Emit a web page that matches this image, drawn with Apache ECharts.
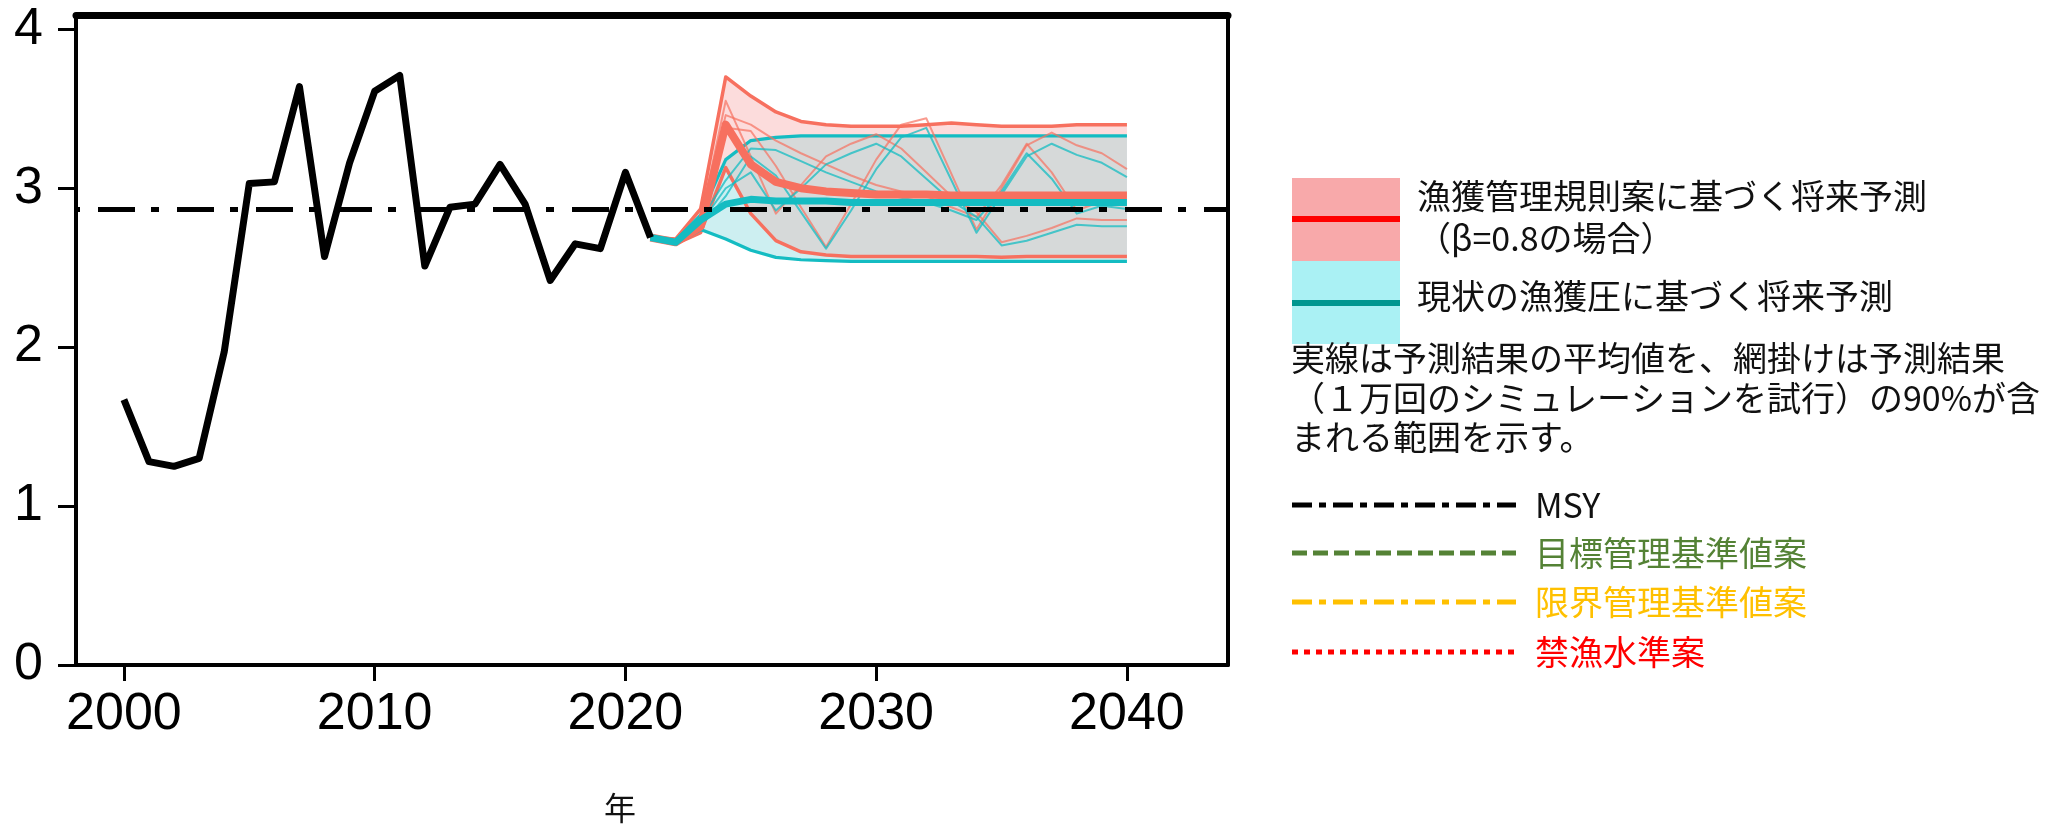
<!DOCTYPE html>
<html>
<head>
<meta charset="utf-8">
<script src="https://cdn.jsdelivr.net/npm/echarts@6/dist/echarts.min.js"></script>
<style>
  html, body { margin: 0; padding: 0; background: #fff; }
  #chart { width: 2066px; height: 832px; }
</style>
</head>
<body>
<div id="chart"></div>
<script>
// ---- data ----
const histYears = [2000, 2001, 2002, 2003, 2004, 2005, 2006, 2007, 2008, 2009, 2010,
                   2011, 2012, 2013, 2014, 2015, 2016, 2017, 2018, 2019, 2020, 2021];
const histBiomass = [1.67, 1.28, 1.25, 1.30, 1.97, 3.03, 3.04, 3.64, 2.57, 3.16, 3.61,
                     3.71, 2.51, 2.88, 2.90, 3.15, 2.90, 2.42, 2.65, 2.62, 3.10, 2.69];

const projYears = [2021, 2022, 2023, 2024, 2025, 2026, 2027, 2028, 2029, 2030,
                   2031, 2032, 2033, 2034, 2035, 2036, 2037, 2038, 2039, 2040];

// harvest control rule (beta = 0.8): mean and 90% range
const ruleMean  = [2.69, 2.66, 2.76, 3.40, 3.15, 3.04, 3.00, 2.98, 2.97, 2.96,
                   2.96, 2.96, 2.955, 2.955, 2.955, 2.955, 2.955, 2.955, 2.955, 2.955];
const ruleUpper = [2.69, 2.68, 2.87, 3.70, 3.58, 3.48, 3.42, 3.40, 3.39, 3.39,
                   3.39, 3.40, 3.41, 3.40, 3.39, 3.39, 3.39, 3.40, 3.40, 3.40];
const ruleLower = [2.69, 2.65, 2.72, 3.13, 2.84, 2.67, 2.60, 2.58, 2.57, 2.57,
                   2.57, 2.57, 2.57, 2.57, 2.565, 2.57, 2.57, 2.57, 2.57, 2.57];

// current fishing pressure: mean and 90% range
const curMean  = [2.69, 2.66, 2.80, 2.90, 2.93, 2.92, 2.92, 2.92, 2.91, 2.91,
                  2.91, 2.91, 2.91, 2.91, 2.91, 2.91, 2.91, 2.91, 2.91, 2.91];
const curUpper = [2.69, 2.67, 2.83, 3.18, 3.30, 3.32, 3.33, 3.33, 3.33, 3.33,
                  3.33, 3.33, 3.33, 3.33, 3.33, 3.33, 3.33, 3.33, 3.33, 3.33];
const curLower = [2.69, 2.65, 2.74, 2.68, 2.61, 2.565, 2.55, 2.545, 2.54, 2.54,
                  2.54, 2.54, 2.54, 2.54, 2.54, 2.54, 2.54, 2.54, 2.54, 2.54];

// individual simulation runs
const ruleRunA = [2.69, 2.66, 2.80, 3.55, 3.20, 2.84, 3.02, 3.20, 3.28, 3.34,
                  3.25, 3.10, 2.95, 2.85, 2.66, 2.70, 2.75, 2.81, 2.80, 2.80];
const ruleRunB = [2.69, 2.66, 2.78, 3.38, 3.36, 3.14, 2.88, 2.63, 2.90, 3.18,
                  3.40, 3.44, 3.09, 2.74, 3.00, 3.27, 3.35, 3.27, 3.22, 3.12];
const ruleRunC = [2.69, 2.66, 2.82, 3.46, 3.40, 3.30, 3.22, 3.15, 3.08, 3.02,
                  2.98, 2.95, 2.88, 2.82, 3.02, 3.28, 3.10, 2.86, 2.92, 2.90];
const curRunA  = [2.69, 2.66, 2.78, 3.00, 3.10, 2.86, 3.00, 3.15, 3.22, 3.28,
                  3.20, 3.06, 2.92, 2.82, 2.64, 2.67, 2.72, 2.77, 2.76, 2.76];
const curRunB  = [2.69, 2.66, 2.76, 2.95, 3.20, 3.08, 2.85, 2.62, 2.86, 3.12,
                  3.32, 3.38, 3.05, 2.72, 2.96, 3.20, 3.28, 3.21, 3.16, 3.07];
const curRunC  = [2.69, 2.66, 2.80, 3.05, 3.25, 3.24, 3.17, 3.10, 3.04, 2.98,
                  2.94, 2.91, 2.86, 2.80, 2.98, 3.22, 3.06, 2.84, 2.89, 2.87];

const msyLevel = 2.87;

const xTicks = [2000, 2010, 2020, 2030, 2040];
const yTicks = [0, 1, 2, 3, 4];

// ---- colours ----
const RED = '#F7705F';
const CYAN = '#14BCC2';
const FILL_RULE = '#FCDCDC';
const FILL_CUR = '#CDEFF1';
const FILL_BOTH = '#D6D9D9';
const LATIN = '"Liberation Sans", Arial, sans-serif';
const CJK = '"Noto Sans CJK JP", sans-serif';

// ---- helpers ----
function pairs(xs, ys) { return xs.map((x, i) => [x, ys[i]]); }

// pointwise min/max of two polylines, including the crossing points
function envelope(xs, a, b, pick) {
  const pts = [];
  for (let i = 0; i < xs.length; i++) {
    pts.push([xs[i], pick(a[i], b[i])]);
    if (i < xs.length - 1) {
      const d0 = a[i] - b[i], d1 = a[i + 1] - b[i + 1];
      if (d0 * d1 < 0) {
        const t = d0 / (d0 - d1);
        pts.push([xs[i] + t * (xs[i + 1] - xs[i]), a[i] + t * (a[i + 1] - a[i])]);
      }
    }
  }
  return pts;
}

function bandSeries(upperPts, lowerPts, fill) {
  return {
    type: 'custom', silent: true, z: 1,
    data: [[projYears[0], lowerPts[0][1]]],
    renderItem: function (params, api) {
      const pts = upperPts.concat(lowerPts.slice().reverse()).map(p => api.coord(p));
      return { type: 'polygon', shape: { points: pts }, style: { fill: fill, stroke: null } };
    }
  };
}

function lineSeries(ys, color, width, z, opacity) {
  return {
    type: 'line', silent: true, z: z, showSymbol: false, symbol: 'none',
    data: pairs(projYears, ys),
    lineStyle: { color: color, width: width, opacity: opacity == null ? 1 : opacity, join: 'round' }
  };
}

const overlapUpper = envelope(projYears, ruleUpper, curUpper, Math.min);
const overlapLower = envelope(projYears, ruleLower, curLower, Math.max);

const series = [
  bandSeries(pairs(projYears, ruleUpper), pairs(projYears, ruleLower), FILL_RULE),
  bandSeries(pairs(projYears, curUpper), pairs(projYears, curLower), FILL_CUR),
  bandSeries(overlapUpper, overlapLower, FILL_BOTH),
  lineSeries(ruleUpper, RED, 3.5, 2),
  lineSeries(ruleLower, RED, 3.5, 2),
  lineSeries(curUpper, CYAN, 3.2, 2),
  lineSeries(curLower, CYAN, 3.2, 2),
  lineSeries(ruleRunA, RED, 2, 2, 0.7),
  lineSeries(ruleRunB, RED, 2, 2, 0.7),
  lineSeries(ruleRunC, RED, 2, 2, 0.7),
  lineSeries(curRunA, CYAN, 2, 2, 0.75),
  lineSeries(curRunB, CYAN, 2, 2, 0.75),
  lineSeries(curRunC, CYAN, 2, 2, 0.75),
  lineSeries(ruleMean, RED, 8, 3),
  lineSeries(curMean, CYAN, 7, 3),
  {
    type: 'line', silent: true, z: 4, data: [],
    markLine: {
      silent: true, symbol: 'none', label: { show: false },
      lineStyle: { color: '#000', width: 5, type: [37, 16, 8, 18], dashOffset: 57 },
      data: [{ yAxis: msyLevel }]
    }
  },
  {
    type: 'line', silent: true, z: 5, showSymbol: false, symbol: 'none',
    data: pairs(histYears, histBiomass),
    lineStyle: { color: '#000', width: 7, join: 'round' }
  }
];

// ---- legend (right-hand side) ----
const legendText = [
  { x: 1417, y: 196, text: '漁獲管理規則案に基づく将来予測', fill: '#111' },
  { x: 1417, y: 238, text: '（β=0.8の場合）', fill: '#111' },
  { x: 1417, y: 296, text: '現状の漁獲圧に基づく将来予測', fill: '#111' },
  { x: 1291, y: 358, text: '実線は予測結果の平均値を、網掛けは予測結果', fill: '#111' },
  { x: 1291, y: 398, text: '（１万回のシミュレーションを試行）の90%が含', fill: '#111' },
  { x: 1291, y: 437, text: 'まれる範囲を示す。', fill: '#111' },
  { x: 1535, y: 505, text: 'MSY', fill: '#111' },
  { x: 1535, y: 553, text: '目標管理基準値案', fill: '#548235' },
  { x: 1535, y: 602, text: '限界管理基準値案', fill: '#FFC000' },
  { x: 1535, y: 652, text: '禁漁水準案', fill: '#FF0000' }
];
const legendLines = [
  { y: 505, color: '#000', dash: [20, 7, 7, 7] },
  { y: 553, color: '#548235', dash: [15, 6] },
  { y: 602, color: '#FFC000', dash: [20, 7, 7, 7] },
  { y: 652, color: '#FF0000', dash: [6, 6] }
];

const graphic = [
  { type: 'rect', shape: { x: 1292, y: 178, width: 108, height: 83 }, style: { fill: '#F8A9AA' } },
  { type: 'rect', shape: { x: 1292, y: 261, width: 108, height: 83 }, style: { fill: '#AAF1F4' } },
  { type: 'line', shape: { x1: 1292, y1: 219, x2: 1400, y2: 219 }, style: { stroke: '#FF0000', lineWidth: 6 } },
  { type: 'line', shape: { x1: 1292, y1: 303, x2: 1400, y2: 303 }, style: { stroke: '#00968F', lineWidth: 6 } },
  { type: 'text', x: 620, y: 808,
    style: { text: '年', font: '32px ' + CJK, fill: '#111', align: 'center', verticalAlign: 'middle' } }
];
legendLines.forEach(l => graphic.push({
  type: 'line', shape: { x1: 1292, y1: l.y, x2: 1516, y2: l.y },
  style: { stroke: l.color, lineWidth: 5, lineDash: l.dash }
}));
legendText.forEach(t => graphic.push({
  type: 'text', x: t.x, y: t.y,
  style: { text: t.text, font: '34px ' + CJK, fill: t.fill, align: 'left', verticalAlign: 'middle' }
}));

// ---- chart ----
const xMin = 1998.09, xMax = 2044.03, yMin = 0, yMax = 4.09;
const chart = echarts.init(document.getElementById('chart'), null, { renderer: 'canvas' });
chart.setOption({
  backgroundColor: '#fff',
  animation: false,
  grid: { left: 76, right: 838, top: 15, bottom: 167, containLabel: false, outerBoundsMode: 'none' },
  xAxis: [
    {
      type: 'value', min: xMin, max: xMax, position: 'bottom',
      axisLine: { show: true, onZero: false, lineStyle: { color: '#000', width: 4 } },
      axisTick: { show: true, customValues: xTicks, length: 16, lineStyle: { color: '#000', width: 3 } },
      axisLabel: { show: true, customValues: xTicks, margin: 24, color: '#000',
                   fontSize: 52, fontFamily: LATIN, formatter: v => String(v) },
      splitLine: { show: false }
    },
    {
      type: 'value', min: xMin, max: xMax, position: 'top',
      axisLine: { show: true, onZero: false, lineStyle: { color: '#000', width: 7 } },
      axisTick: { show: false }, axisLabel: { show: false }, splitLine: { show: false }
    }
  ],
  yAxis: [
    {
      type: 'value', min: yMin, max: yMax, position: 'left',
      axisLine: { show: true, onZero: false, lineStyle: { color: '#000', width: 4 } },
      axisTick: { show: true, customValues: yTicks, length: 18, lineStyle: { color: '#000', width: 3 } },
      axisLabel: { show: true, customValues: yTicks, margin: 33, color: '#000',
                   fontSize: 52, fontFamily: LATIN, formatter: v => String(v) },
      splitLine: { show: false }
    },
    {
      type: 'value', min: yMin, max: yMax, position: 'right',
      axisLine: { show: true, onZero: false, lineStyle: { color: '#000', width: 4 } },
      axisTick: { show: false }, axisLabel: { show: false }, splitLine: { show: false }
    }
  ],
  series: series,
  graphic: graphic
});
</script>
</body>
</html>
